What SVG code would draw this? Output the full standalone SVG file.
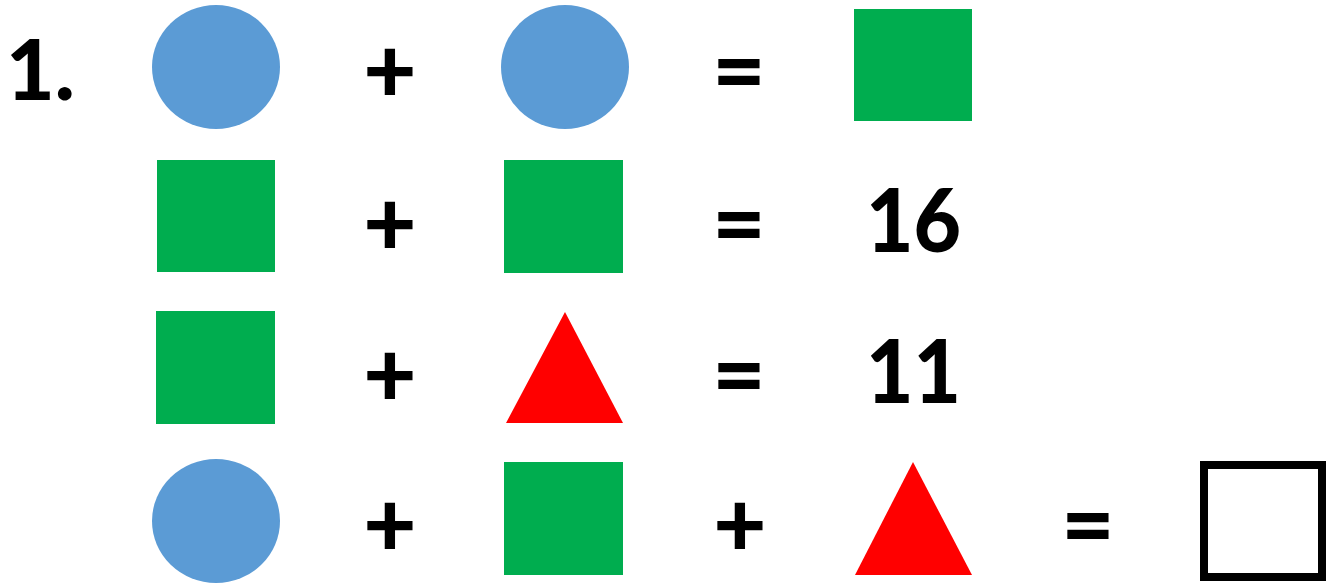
<svg xmlns="http://www.w3.org/2000/svg" width="1335" height="585" viewBox="0 0 1335 585">
<style>
.c{fill:#5b9bd5}
.s{fill:#00ad4f}
.t{fill:#ff0000}
.op{font-family:Lato,"Liberation Sans",sans-serif;font-weight:900;font-size:92px;fill:#000;text-anchor:middle}
.n{font-family:Lato,"Liberation Sans",sans-serif;font-weight:900;font-size:88px;fill:#000}
</style>
<rect width="1335" height="585" fill="#fff"/>
<g id="label"><text class="n" x="6" y="100" style="font-size:84px">1.</text></g>
<g id="row1">
<ellipse class="c" cx="216" cy="67" rx="64" ry="62"/>
<text class="op" x="390" y="103">+</text>
<ellipse class="c" cx="565" cy="67" rx="64" ry="62"/>
<text class="op" x="739" y="103">=</text>
<rect class="s" x="854" y="9" width="118" height="112"/>
</g>
<g id="row2">
<rect class="s" x="157" y="160" width="118" height="112"/>
<text class="op" x="390" y="256">+</text>
<rect class="s" x="504" y="160" width="119" height="113"/>
<text class="op" x="739" y="256">=</text>
<text class="n" x="866" y="252" textLength="95" lengthAdjust="spacingAndGlyphs">16</text>
</g>
<g id="row3">
<rect class="s" x="156" y="311" width="119" height="113"/>
<text class="op" x="390" y="407">+</text>
<polygon class="t" points="565,312 623,423 506,423"/>
<text class="op" x="739" y="407">=</text>
<text class="n" x="866" y="403" textLength="95" lengthAdjust="spacingAndGlyphs">11</text>
</g>
<g id="row4">
<ellipse class="c" cx="216" cy="521" rx="64" ry="62"/>
<text class="op" x="390" y="557">+</text>
<rect class="s" x="504" y="462" width="119" height="113"/>
<text class="op" x="740" y="557">+</text>
<polygon class="t" points="913,462 972,575 855,575"/>
<text class="op" x="1088" y="557">=</text>
<rect x="1204" y="465" width="118" height="112" fill="none" stroke="#000" stroke-width="8"/>
</g>
</svg>
